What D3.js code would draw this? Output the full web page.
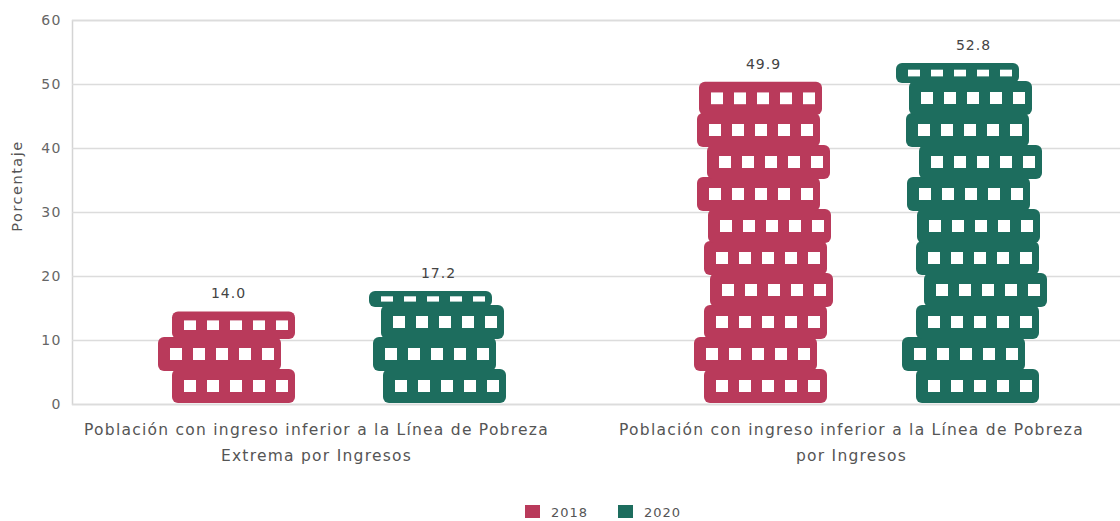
<!DOCTYPE html>
<html>
<head>
<meta charset="utf-8">
<script src="https://cdn.jsdelivr.net/npm/d3@7"></script>
<style>
  body { margin: 0; background: #fff; }
  svg { display: block; font-family: "DejaVu Sans", sans-serif; }
</style>
</head>
<body>
<script>
// data
const categories = [
  ["Población con ingreso inferior a la Línea de Pobreza", "Extrema por Ingresos"],
  ["Población con ingreso inferior a la Línea de Pobreza", "por Ingresos"]
];
const series = ["2018", "2020"];
const values2018 = [14.0, 49.9];
const values2020 = [17.2, 52.8];
const yTicks = [0, 10, 20, 30, 40, 50, 60];
const brickUnit = 5; // each brick stands for 5 percentage points

// small sideways wobble of each brick (decorative), bottom to top
const brickJitter = [
  [[5, -9, 5], [6, -4, 4, -8]],
  [[2, -8, 2, 8, 2, 6, -5, 5, -5, -3], [4, -10, 4, 12, 4, 5, -5, 7, -6, -3, -16]]
];

const colors = ["#b93a5b", "#1d6d5e"];

let width = 1120, height = 521;
let plotLeft = 72, plotRight = 1120, plotTop = 20, plotBottom = 404;

let svg = d3.select('body').append('svg')
            .attr('width', width)
            .attr('height', height);

let y = d3.scaleLinear().domain([0, 60]).range([plotBottom, plotTop]);
let x0 = d3.scaleBand()
           .domain(d3.range(categories.length))
           .range([66, 1136]);
let x1 = d3.scaleBand().domain(series).range([-210, 210]);

// grid + y axis
let yAxis = d3.axisLeft(y).tickValues(yTicks).tickSize(-(plotRight - plotLeft)).tickPadding(10);
let gy = svg.append('g').attr('transform', 'translate(' + plotLeft + ',0)').call(yAxis);
gy.select('.domain').attr('stroke', '#d4d4d4').attr('stroke-width', 1.5);
gy.selectAll('.tick line').attr('stroke', '#dcdcdc').attr('stroke-width', 1.5);
gy.selectAll('.tick text')
  .attr('fill', '#666')
  .style('font-family', '"DejaVu Sans", sans-serif')
  .style('font-size', '14px')
  .style('letter-spacing', '1.5px');

svg.append('text')
   .attr('transform', 'translate(22,' + 186 + ') rotate(-90)')
   .attr('text-anchor', 'middle')
   .attr('fill', '#555')
   .style('font-size', '14.5px')
   .style('letter-spacing', '1.5px')
   .text('Porcentaje');

// category labels
categories.forEach((lines, ci) => {
  let cx = x0(ci) + x0.bandwidth() / 2 - 17;
  let t = svg.append('text')
             .attr('y', 435)
             .attr('text-anchor', 'middle')
             .attr('fill', '#555')
             .style('font-size', '15.5px')
             .style('letter-spacing', '1.25px');
  lines.forEach((ln, li) => {
    t.append('tspan')
     .attr('x', cx)
     .attr('dy', li === 0 ? 0 : 26)
     .text(ln);
  });
});

// brick bars
let brickW = 123, sq = 12, sqPitch = 23;
[values2018, values2020].forEach((vals, si) => {
  vals.forEach((v, ci) => {
    let cx = x0(ci) + x0.bandwidth() / 2 + x1(series[si]) + x1.bandwidth() / 2;
    let n = Math.ceil(v / brickUnit);
    let bricks = d3.range(n).map(i => ({
      lo: i * brickUnit,
      hi: Math.min((i + 1) * brickUnit, v),
      dx: brickJitter[ci][si][i] || 0
    }));
    let g = svg.append('g');
    bricks.forEach(b => {
      let y0 = y(b.hi) - 3, y1 = y(b.lo) - 1;
      let h = y1 - y0;
      let bx = cx - brickW / 2 + b.dx;
      g.append('rect')
       .attr('x', bx).attr('y', y0)
       .attr('width', brickW).attr('height', h)
       .attr('rx', 6).attr('ry', 6)
       .attr('fill', colors[si]);
      let sh = sq * (b.hi - b.lo) / brickUnit;
      d3.range(5).forEach(k => {
        g.append('rect')
         .attr('x', bx + 12 + k * sqPitch)
         .attr('y', y0 + h / 2 - sh / 2)
         .attr('width', sq).attr('height', sh)
         .attr('fill', '#fff');
      });
    });
    svg.append('text')
       .attr('x', cx)
       .attr('y', y(v) - 16)
       .attr('text-anchor', 'middle')
       .attr('fill', '#444')
       .style('font-size', '14px')
       .style('letter-spacing', '1px')
       .text(v.toFixed(1));
  });
});

// legend
let legend = svg.append('g').attr('transform', 'translate(525,505)');
series.forEach((s, i) => {
  let lg = legend.append('g').attr('transform', 'translate(' + (i * 93) + ',0)');
  lg.append('rect').attr('width', 15).attr('height', 13).attr('fill', colors[i]);
  lg.append('text').attr('x', 26).attr('y', 12).attr('fill', '#555')
    .style('font-size', '13px').style('letter-spacing', '1px').text(s);
});
</script>
</body>
</html>
